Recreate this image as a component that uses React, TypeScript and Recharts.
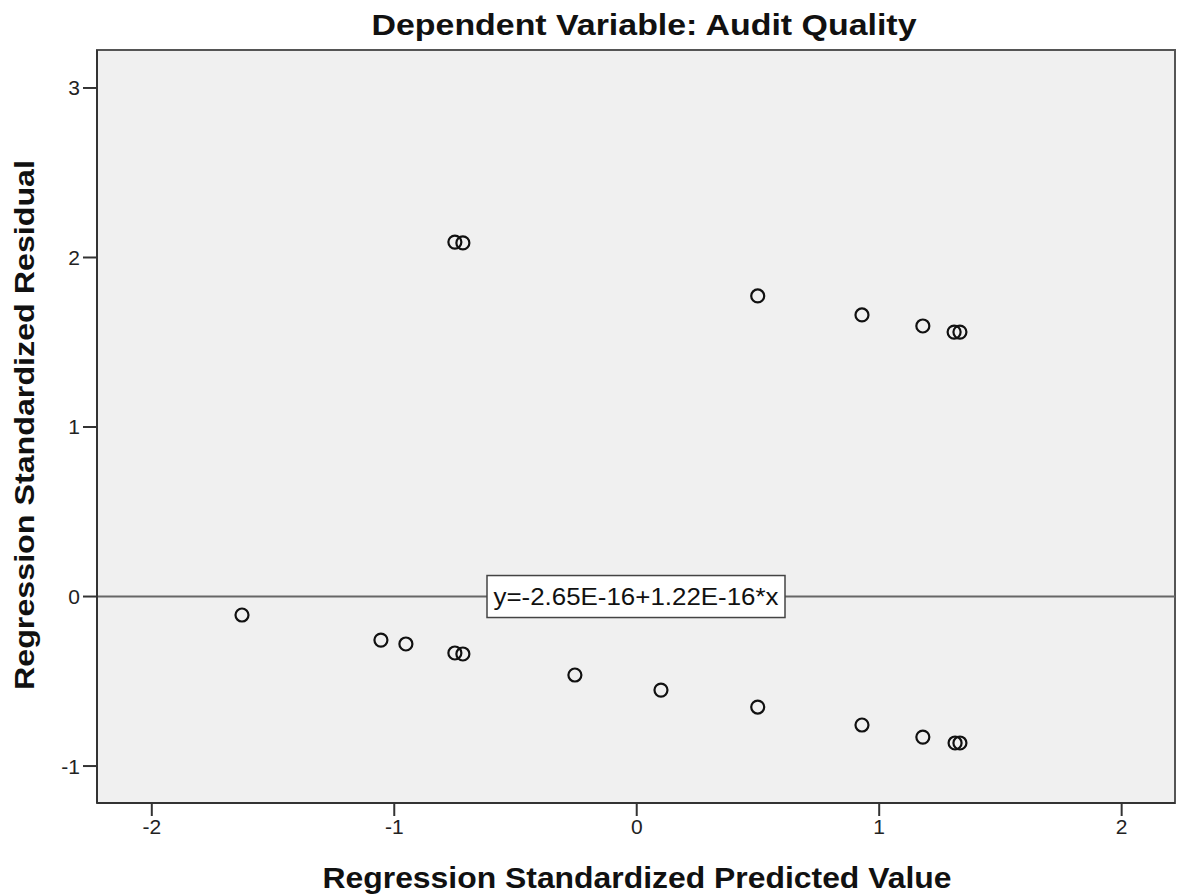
import React from "react";
import {
  ScatterChart,
  Scatter,
  XAxis,
  YAxis,
  ReferenceLine,
  ReferenceArea,
} from "recharts";

// standardized predicted / residual pairs
const predicted = [
  -0.75, -0.717, 0.499, 0.929, 1.18, 1.309, 1.333,
  -1.628, -1.055, -0.952, -0.75, -0.717, -0.255, 0.1, 0.499, 0.929, 1.18, 1.313, 1.333,
];
const residual = [
  2.091, 2.086, 1.773, 1.661, 1.596, 1.56, 1.56,
  -0.109, -0.257, -0.28, -0.333, -0.339, -0.463, -0.552, -0.652, -0.758, -0.829, -0.864, -0.864,
];

const xTicks = [-2, -1, 0, 1, 2];
const yTicks = [-1, 0, 1, 2, 3];
const xDomain: [number, number] = [-2.226, 2.22];
const yDomain: [number, number] = [-1.218, 3.224];

const fitLabel = "y=-2.65E-16+1.22E-16*x";
const title = "Dependent Variable: Audit Quality";
const xTitle = "Regression Standardized Predicted Value";
const yTitle = "Regression Standardized Residual";

const FONT = '"Liberation Sans", Arial, sans-serif';

const points = predicted.map((x, i) => ({ x, y: residual[i] }));

function Ring(props: any) {
  const { cx, cy } = props;
  return <circle cx={cx} cy={cy} r={6.5} fill="none" stroke="#111" strokeWidth={2.2} />;
}

function FitBox(props: any) {
  const { viewBox } = props;
  const cx = viewBox.x + viewBox.width / 2;
  const cy = viewBox.y;
  const w = 298;
  const h = 42;
  return (
    <g>
      <rect x={cx - w / 2} y={cy - h / 2} width={w} height={h} fill="#fff" stroke="#444" strokeWidth={1.5} />
      <text
        x={cx}
        y={cy + 8}
        textAnchor="middle"
        fontFamily={FONT}
        fontSize={23}
        fill="#111"
        textLength={285}
        lengthAdjust="spacingAndGlyphs"
      >
        {fitLabel}
      </text>
    </g>
  );
}

export default function App() {
  return (
    <div style={{ position: "absolute", left: 0, top: 0, width: 1177, height: 896, background: "#fff" }}>
      <ScatterChart width={1177} height={896} margin={{ top: 50, right: 2, bottom: 0, left: 0 }}>
        <ReferenceArea
          x1={xDomain[0]}
          x2={xDomain[1]}
          y1={yDomain[0]}
          y2={yDomain[1]}
          fill="#f0f0f0"
          fillOpacity={1}
          stroke="#555"
          strokeWidth={2}
          ifOverflow="visible"
        />
        <XAxis
          type="number"
          dataKey="x"
          domain={xDomain}
          ticks={xTicks}
          allowDataOverflow
          height={93}
          tickSize={13}
          tickMargin={3}
          axisLine={{ stroke: "#333", strokeWidth: 2 }}
          tickLine={{ stroke: "#333", strokeWidth: 2 }}
          tick={{ fill: "#222", fontSize: 21, fontFamily: FONT }}
        />
        <YAxis
          type="number"
          dataKey="y"
          domain={yDomain}
          ticks={yTicks}
          allowDataOverflow
          width={97}
          tickSize={14}
          tickMargin={3}
          axisLine={{ stroke: "#333", strokeWidth: 2 }}
          tickLine={{ stroke: "#333", strokeWidth: 2 }}
          tick={{ fill: "#222", fontSize: 21, fontFamily: FONT }}
        />
        <ReferenceLine y={0} stroke="#666" strokeWidth={2} label={<FitBox />} />
        <Scatter data={points} shape={<Ring />} isAnimationActive={false} />
      </ScatterChart>
      <svg
        width={1177}
        height={896}
        style={{ position: "absolute", left: 0, top: 0, pointerEvents: "none" }}
      >
        <text
          x={644}
          y={35}
          textAnchor="middle"
          fontFamily={FONT}
          fontWeight="bold"
          fontSize={30}
          fill="#111"
          textLength={545}
          lengthAdjust="spacingAndGlyphs"
        >
          {title}
        </text>
        <text
          x={637}
          y={888}
          textAnchor="middle"
          fontFamily={FONT}
          fontWeight="bold"
          fontSize={30}
          fill="#111"
          textLength={629}
          lengthAdjust="spacingAndGlyphs"
        >
          {xTitle}
        </text>
        <text
          transform="translate(34, 425) rotate(-90)"
          textAnchor="middle"
          fontFamily={FONT}
          fontWeight="bold"
          fontSize={27}
          fill="#111"
          textLength={530}
          lengthAdjust="spacingAndGlyphs"
        >
          {yTitle}
        </text>
      </svg>
    </div>
  );
}
